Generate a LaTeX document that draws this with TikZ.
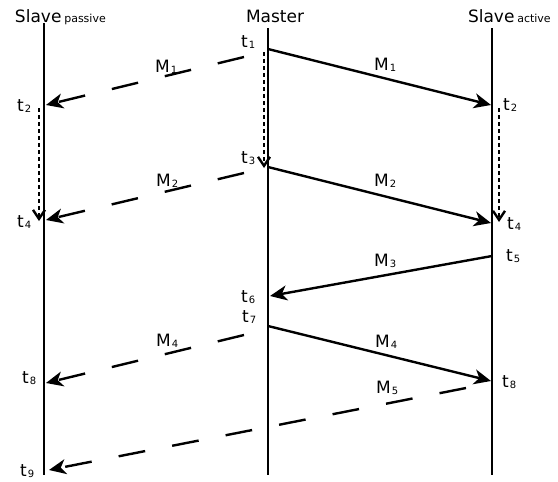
\documentclass[tikz,border=0pt]{standalone}
\usepackage{fontspec}
\setmainfont{DejaVu Sans}
\usetikzlibrary{arrows.meta,positioning}

\newcommand{\lowsub}[1]{\kern1.2pt\raisebox{-1.5pt}{\fontsize{10}{10}\selectfont #1}}
\newcommand{\rolesub}[1]{{\fontsize{11}{11}\selectfont #1}}

\begin{document}
\begin{tikzpicture}[
  x=1pt, y=-1pt,
  font=\fontsize{17}{20}\selectfont,
  lifeline/.style={line width=2.6pt},
  msg/.style={-{Stealth[length=17pt,width=15pt,inset=5pt]}, line width=2.4pt},
  bcast/.style={msg, dash pattern=on 27pt off 27.5pt},
  holdarr/.style={-{Straight Barb[length=9pt,width=12pt]}, line width=2.4pt,
    dash pattern=on 4pt off 3pt},
  lbl/.style={anchor=base west, inner sep=0pt, outer sep=0pt},
]
\useasboundingbox (0,0) rectangle (558,482);

% Lifelines
\node[lbl] (pasname) at (15,22) {Slave\,\rolesub{passive}};
\node[lbl] (mstname) at (246,22) {Master};
\node[lbl] (actname) at (468,22) {Slave\,\rolesub{active}};
\coordinate (pasT) at (44,23);  \coordinate (pasB) at (44,475);
\coordinate (mstT) at (268,28); \coordinate (mstB) at (268,475);
\coordinate (actT) at (492,28); \coordinate (actB) at (492,475);
\draw[lifeline] (pasT) -- (pasB);
\draw[lifeline] (mstT) -- (mstB);
\draw[lifeline] (actT) -- (actB);

% Event points
\coordinate (m1)  at (268,49);  \coordinate (a2) at (491,105);
\coordinate (m1d) at (244,57);  \coordinate (p2) at (46,105);
\coordinate (mw1) at (264,52);  \coordinate (mw2) at (264,168);
\coordinate (pw1) at (39,108);  \coordinate (pw2) at (39,221);
\coordinate (aw1) at (499,108); \coordinate (aw2) at (499,222);
\coordinate (m3)  at (268,167); \coordinate (a4) at (491,223);
\coordinate (m3d) at (244,173); \coordinate (p4) at (46,220);
\coordinate (a5)  at (492,256); \coordinate (m6) at (270,296);
\coordinate (m7)  at (268,326); \coordinate (a8) at (491,381);
\coordinate (m7d) at (244,335); \coordinate (p8) at (46,383);
\coordinate (a8d) at (466,388); \coordinate (p9) at (49,470);

% Sync messages
\draw[msg] (m1) -- (a2);
\draw[bcast] (m1d) -- (p2);
\draw[msg] (m3) -- (a4);
\draw[bcast] (m3d) -- (p4);
\draw[msg] (a5) -- (m6);
\draw[msg] (m7) -- (a8);
\draw[bcast] (m7d) -- (p8);
\draw[bcast] (a8d) -- (p9);

% Waiting intervals
\draw[holdarr] (mw1) -- (mw2);
\draw[holdarr] (pw1) -- (pw2);
\draw[holdarr] (aw1) -- (aw2);

% Time stamps
\node[lbl] (t1)  at (241,47)  {t\lowsub{1}};
\node[lbl] (t2p) at (17,111)  {t\lowsub{2}};
\node[lbl] (t2a) at (503,110) {t\lowsub{2}};
\node[lbl] (t3)  at (241,163) {t\lowsub{3}};
\node[lbl] (t4p) at (17,227)  {t\lowsub{4}};
\node[lbl] (t4a) at (507,229) {t\lowsub{4}};
\node[lbl] (t5)  at (506,261) {t\lowsub{5}};
\node[lbl] (t6)  at (241,302) {t\lowsub{6}};
\node[lbl] (t7)  at (242,322) {t\lowsub{7}};
\node[lbl] (t8p) at (22,383)  {t\lowsub{8}};
\node[lbl] (t8a) at (502,387) {t\lowsub{8}};
\node[lbl] (t9)  at (20,476)  {t\lowsub{9}};

% Message names
\node[lbl] (M1p) at (155,72)  {M\lowsub{1}};
\node[lbl] (M1a) at (374,70)  {M\lowsub{1}};
\node[lbl] (M2p) at (156,186) {M\lowsub{2}};
\node[lbl] (M2a) at (374,186) {M\lowsub{2}};
\node[lbl] (M3)  at (374,266) {M\lowsub{3}};
\node[lbl] (M4p) at (156,346) {M\lowsub{4}};
\node[lbl] (M4a) at (375,347) {M\lowsub{4}};
\node[lbl] (M5)  at (376,393) {M\lowsub{5}};
\end{tikzpicture}
\end{document}
